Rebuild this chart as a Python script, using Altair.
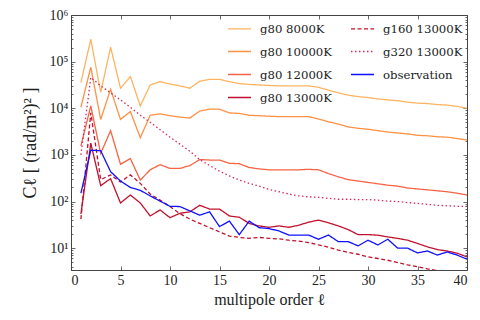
import altair as alt
import pandas as pd

ell = list(range(1, 41))

g80_8000 = [35500, 302000, 21900, 204000, 26900, 47900, 11200, 31600, 37200, 33100,
            30200, 26900, 38000, 41700, 41700, 37200, 33900, 32400, 31600, 30900,
            30200, 30200, 30200, 30200, 28200, 24500, 21400, 19100, 17800, 17000,
            15800, 15100, 14500, 13500, 12900, 12600, 12000, 11700, 11000, 10000]
g80_10000 = [10500, 75900, 5750, 25700, 5750, 8500, 2340, 7080, 7590, 6920,
             6460, 6170, 8710, 9550, 9550, 7940, 7760, 7080, 6920, 6760,
             6610, 6610, 6610, 6610, 5890, 5130, 4570, 3980, 3720, 3550,
             3310, 3090, 2950, 2820, 2630, 2570, 2450, 2400, 2240, 2090]
g80_12000 = [1550, 11200, 1070, 3310, 631, 832, 288, 479, 617, 513,
             513, 589, 794, 776, 776, 661, 646, 537, 501, 479,
             479, 479, 479, 490, 479, 398, 339, 295, 275, 257,
             240, 224, 214, 195, 186, 178, 170, 162, 151, 138]
g80_13000 = [54, 1780, 219, 309, 93, 138, 93, 49, 66, 45,
             56, 60, 83, 69, 69, 49, 46, 34, 30, 28,
             30, 28, 31, 36, 40, 35, 30, 25, 19.5, 19.5,
             19, 17.4, 16.2, 14.8, 12.6, 10.7, 9.3, 8.7, 7.8, 6.5]
g160_13000 = [42, 7940, 295, 372, 263, 372, 245, 145, 107, 78,
              55, 42, 34, 27.5, 22.4, 18.2, 17.0, 16.2, 17.0, 16.2,
              15.8, 14.8, 14.1, 13.2, 11.7, 10.5, 9.1, 8.1, 7.4, 6.5,
              6.0, 5.5, 4.9, 4.4, 4.0, 3.6, 3.3, 3.0, 2.8, 2.6]
g320_13000 = [1000, 45700, 30200, 21400, 15100, 10500, 7080, 5010, 3470, 2400,
              1700, 1200, 794, 589, 447, 355, 288, 245, 214, 182,
              162, 145, 132, 126, 123, 117, 112, 112, 110, 110,
              107, 102, 100, 95, 91, 87, 83, 81, 79, 79]
observation = [151, 1260, 1230, 437, 275, 200, 174, 132, 102, 79,
               78, 63, 51, 60, 29, 38, 19.5, 38, 27.5, 26.3,
               23.4, 19.1, 19.1, 19.1, 15.5, 19.1, 13.8, 13.8, 11.2, 14.8,
               11.7, 15.5, 10.0, 10.0, 7.9, 8.7, 7.1, 8.3, 7.1, 5.8]

series = {
    "g80 8000K": g80_8000,
    "g80 10000K": g80_10000,
    "g80 12000K": g80_12000,
    "g80 13000K": g80_13000,
    "g160 13000K": g160_13000,
    "g320 13000K": g320_13000,
    "observation": observation,
}
draw_order = ["g80 8000K", "g80 10000K", "g80 12000K", "g320 13000K",
              "g160 13000K", "g80 13000K", "observation"]

rows = []
for name, vals in series.items():
    for l, v in zip(ell, vals):
        rows.append({"l": l, "C": v, "model": name, "order": draw_order.index(name)})
df = pd.DataFrame(rows)

legend_order = list(series.keys())
colors = {"g80 8000K": "#fdb462", "g80 10000K": "#fd9146", "g80 12000K": "#f46445",
          "g80 13000K": "#c0122e", "g160 13000K": "#c0122e", "g320 13000K": "#d02a5a",
          "observation": "#1010ff"}
dashes = {"g80 8000K": [1, 0], "g80 10000K": [1, 0], "g80 12000K": [1, 0],
          "g80 13000K": [1, 0], "g160 13000K": [4, 2.5], "g320 13000K": [1.5, 2.5],
          "observation": [1, 0]}
widths = {"g80 8000K": 1.3, "g80 10000K": 1.3, "g80 12000K": 1.3, "g80 13000K": 2.2,
          "g160 13000K": 2.0, "g320 13000K": 1.8, "observation": 2.2}

x_major = list(range(0, 41, 5))
y_major = [10, 100, 1000, 10000, 100000, 1000000]
y_all = sorted(y_major + [m * 10 ** k for k in range(0, 6) for m in range(2, 10) if 3.4 <= m * 10 ** k <= 1e6])

sup = "['\u2070','\u00b9','\u00b2','\u00b3','\u2074','\u2075','\u2076']"
is_major = "abs(log(datum.value)/LN10 - round(log(datum.value)/LN10)) < 0.001"

xs = alt.Scale(domain=[0, 40], nice=False)
ys = alt.Scale(type="log", domain=[3.4, 1e6], nice=False)

lines = alt.Chart(df).mark_line(clip=True).encode(
    x=alt.X("l:Q", scale=xs,
            axis=alt.Axis(values=x_major, title="multipole order  \u2113",
                          labelFontSize=14, titleFontSize=16, titleFontWeight="normal",
                          labelPadding=3, titlePadding=4, ticks=False)),
    y=alt.Y("C:Q", scale=ys,
            axis=alt.Axis(values=y_major,
                          labelExpr="'10' + " + sup + "[round(log(datum.value)/LN10)]",
                          title="C\u2113  [ (rad/m\u00b2)\u00b2 ]",
                          labelFontSize=14, titleFontSize=18, titleFontWeight="normal",
                          labelPadding=3, titlePadding=10, ticks=False)),
    color=alt.Color("model:N",
                    scale=alt.Scale(domain=legend_order, range=[colors[k] for k in legend_order]),
                    legend=alt.Legend(title=None, orient="none", legendX=156, legendY=1,
                                      columns=2, columnPadding=16, rowPadding=3,
                                      symbolType="stroke", symbolSize=529,
                                      labelFontSize=11.7, labelFont="DejaVu Serif",
                                      labelColor="#222222", labelOffset=8)),
    strokeDash=alt.StrokeDash("model:N",
                              scale=alt.Scale(domain=legend_order, range=[dashes[k] for k in legend_order]),
                              legend=None),
    strokeWidth=alt.StrokeWidth("model:N",
                                scale=alt.Scale(domain=legend_order, range=[widths[k] for k in legend_order]),
                                legend=None),
    order=alt.Order("order:Q"),
)

tick_common = dict(labels=False, domain=False, title=None, tickColor="#444444", tickWidth=0.8)
ysize = {"condition": {"test": is_major, "value": 4}, "value": 2}

ticks_a = alt.Chart(df).mark_point(opacity=0).encode(
    x=alt.X("l:Q", scale=xs, axis=alt.Axis(orient="top", offset=-255, values=x_major, tickSize=4, **tick_common)),
    y=alt.Y("C:Q", scale=ys, axis=alt.Axis(orient="right", offset=-396, values=y_all, tickSize=ysize, **tick_common)),
)
ticks_b = alt.Chart(df).mark_point(opacity=0).encode(
    x=alt.X("l:Q", scale=xs, axis=alt.Axis(orient="bottom", offset=-255, values=x_major, tickSize=4, **tick_common)),
    y=alt.Y("C:Q", scale=ys, axis=alt.Axis(orient="left", offset=-396, values=y_all, tickSize=ysize, **tick_common)),
)

chart = alt.layer(lines, ticks_a, ticks_b).resolve_axis(
    x="independent", y="independent"
).properties(
    width=396, height=255,
    autosize=alt.AutoSizeParams(type="none"),
    padding={"left": 63, "top": 7, "right": 5, "bottom": 42},
).configure_view(
    stroke="#444444", strokeWidth=1
).configure_axis(
    grid=False, domainColor="#444444", labelColor="#222222",
    titleColor="#222222", labelFont="Liberation Serif", titleFont="Liberation Serif"
)

chart.save("out.html", embed_options={"renderer": "svg", "actions": False})
